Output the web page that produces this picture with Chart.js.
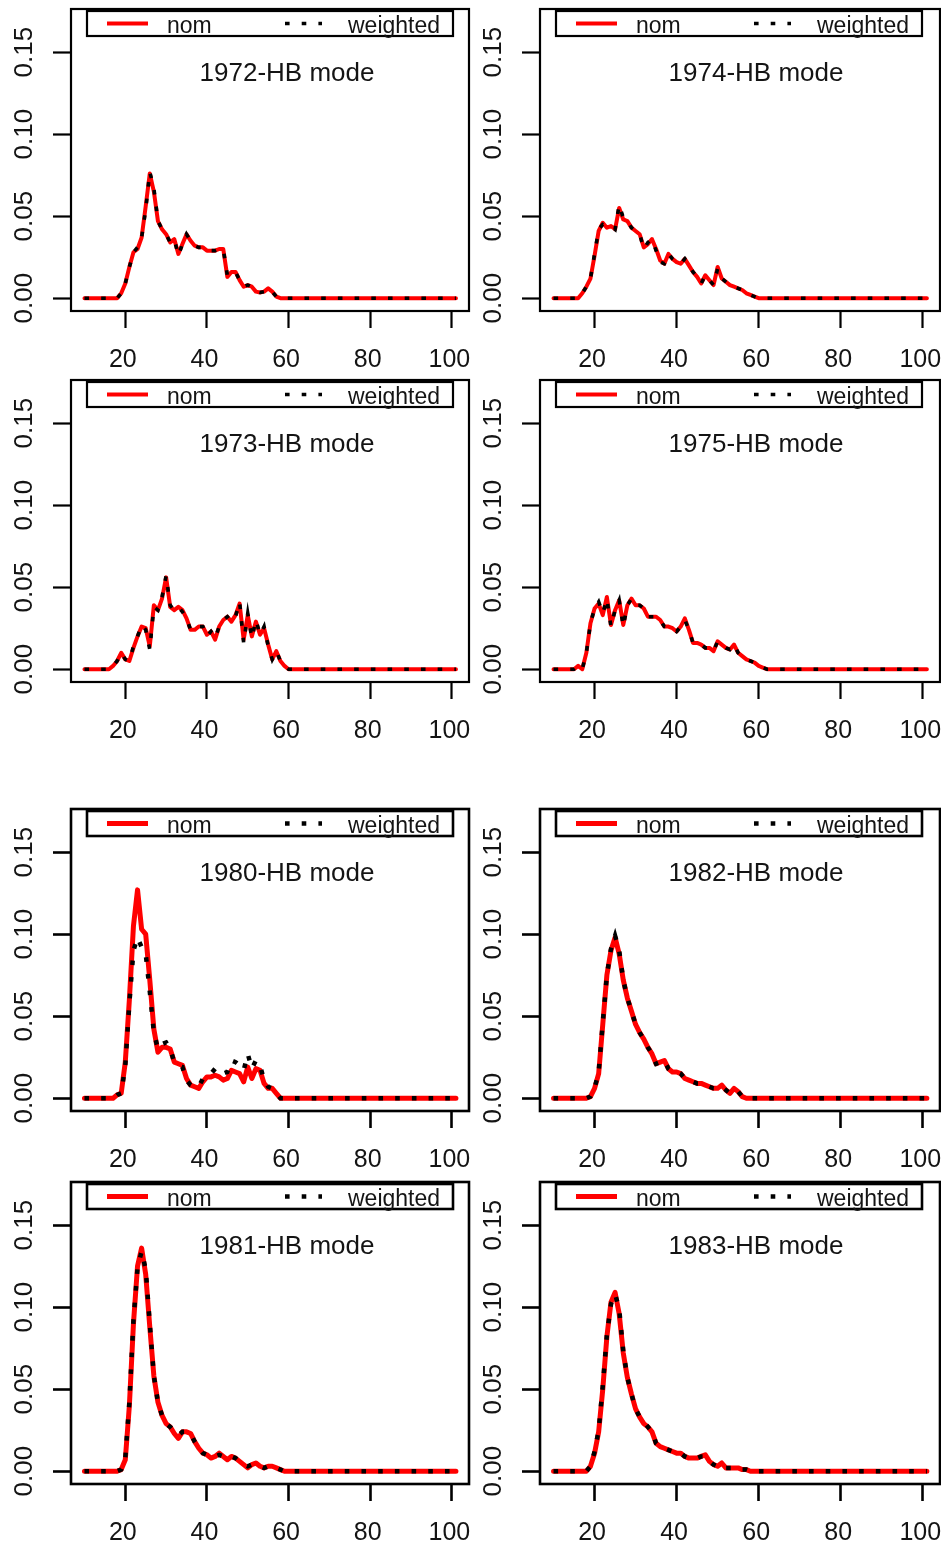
<!DOCTYPE html>
<html>
<head>
<meta charset="utf-8">
<script src="https://cdn.jsdelivr.net/npm/chart.js@4.4.1/dist/chart.umd.min.js"></script>
<style>
  html, body { margin: 0; padding: 0; background: #ffffff; }
  #sheet { position: relative; width: 941px; height: 1549px; overflow: hidden; background: #fff; }
  #sheet canvas { position: absolute; }
</style>
</head>
<body>
<div id="sheet"></div>
<script>
// ---- data -----------------------------------------------------------------
const ages = [
  10, 11, 12, 13, 14, 15, 16, 17, 18, 19,
  20, 21, 22, 23, 24, 25, 26, 27, 28, 29,
  30, 31, 32, 33, 34, 35, 36, 37, 38, 39,
  40, 41, 42, 43, 44, 45, 46, 47, 48, 49,
  50, 51, 52, 53, 54, 55, 56, 57, 58, 59,
  60, 61, 62, 63, 64, 65, 66, 67, 68, 69,
  70, 71, 72, 73, 74, 75, 76, 77, 78, 79,
  80, 81, 82, 83, 84, 85, 86, 87, 88, 89,
  90, 91, 92, 93, 94, 95, 96, 97, 98, 99,
  100, 101
];
const xTickValues = [20, 40, 60, 80, 100];
const yTickValues = [0, 0.05, 0.10, 0.15];
const seriesNames = ['nom', 'weighted'];
const panelTitles = ['1972-HB mode', '1974-HB mode', '1973-HB mode', '1975-HB mode',
                     '1980-HB mode', '1982-HB mode', '1981-HB mode', '1983-HB mode'];

const nom1972 = [
  0, 0, 0, 0, 0, 0, 0, 0, 0, 0.003,
  0.009, 0.019, 0.028, 0.030, 0.037, 0.056, 0.076, 0.065, 0.047, 0.042,
  0.039, 0.034, 0.036, 0.027, 0.033, 0.039, 0.035, 0.032, 0.031, 0.031,
  0.029, 0.029, 0.029, 0.030, 0.030, 0.013, 0.016, 0.016, 0.011, 0.007,
  0.008, 0.007, 0.004, 0.0035, 0.004, 0.006, 0.004, 0.001, 0, 0,
  0, 0, 0, 0, 0, 0, 0, 0, 0, 0,
  0, 0, 0, 0, 0, 0, 0, 0, 0, 0,
  0, 0, 0, 0, 0, 0, 0, 0, 0, 0,
  0, 0, 0, 0, 0, 0, 0, 0, 0, 0,
  0, 0
];
const wtd1972 = [
  0, 0, 0, 0, 0, 0, 0, 0, 0, 0.003,
  0.009, 0.019, 0.028, 0.031, 0.037, 0.054, 0.077, 0.067, 0.047, 0.042,
  0.039, 0.034, 0.036, 0.026, 0.033, 0.039, 0.035, 0.032, 0.031, 0.031,
  0.029, 0.029, 0.029, 0.030, 0.030, 0.014, 0.016, 0.016, 0.011, 0.007,
  0.008, 0.007, 0.004, 0.0035, 0.004, 0.006, 0.004, 0.001, 0, 0,
  0, 0, 0, 0, 0, 0, 0, 0, 0, 0,
  0, 0, 0, 0, 0, 0, 0, 0, 0, 0,
  0, 0, 0, 0, 0, 0, 0, 0, 0, 0,
  0, 0, 0, 0, 0, 0, 0, 0, 0, 0,
  0, 0
];
const nom1974 = [
  0, 0, 0, 0, 0, 0, 0, 0.003, 0.007, 0.012,
  0.026, 0.041, 0.046, 0.043, 0.044, 0.042, 0.055, 0.048, 0.047, 0.043,
  0.041, 0.039, 0.031, 0.033, 0.036, 0.030, 0.023, 0.021, 0.027, 0.024,
  0.022, 0.021, 0.024, 0.020, 0.016, 0.013, 0.009, 0.014, 0.011, 0.008,
  0.019, 0.012, 0.010, 0.008, 0.007, 0.006, 0.005, 0.003, 0.002, 0.001,
  0, 0, 0, 0, 0, 0, 0, 0, 0, 0,
  0, 0, 0, 0, 0, 0, 0, 0, 0, 0,
  0, 0, 0, 0, 0, 0, 0, 0, 0, 0,
  0, 0, 0, 0, 0, 0, 0, 0, 0, 0,
  0, 0
];
const wtd1974 = [
  0, 0, 0, 0, 0, 0, 0, 0.003, 0.007, 0.012,
  0.027, 0.042, 0.045, 0.044, 0.044, 0.042, 0.057, 0.049, 0.047, 0.043,
  0.041, 0.039, 0.030, 0.034, 0.036, 0.029, 0.022, 0.021, 0.027, 0.024,
  0.022, 0.021, 0.024, 0.020, 0.016, 0.013, 0.009, 0.014, 0.011, 0.008,
  0.018, 0.012, 0.010, 0.008, 0.007, 0.006, 0.005, 0.003, 0.002, 0.001,
  0, 0, 0, 0, 0, 0, 0, 0, 0, 0,
  0, 0, 0, 0, 0, 0, 0, 0, 0, 0,
  0, 0, 0, 0, 0, 0, 0, 0, 0, 0,
  0, 0, 0, 0, 0, 0, 0, 0, 0, 0,
  0, 0
];
const nom1973 = [
  0, 0, 0, 0, 0, 0, 0, 0.002, 0.005, 0.010,
  0.006, 0.005, 0.013, 0.020, 0.026, 0.025, 0.014, 0.039, 0.036, 0.043,
  0.056, 0.038, 0.036, 0.038, 0.036, 0.031, 0.024, 0.024, 0.026, 0.026,
  0.021, 0.023, 0.018, 0.026, 0.030, 0.032, 0.029, 0.033, 0.040, 0.018,
  0.033, 0.020, 0.029, 0.021, 0.025, 0.015, 0.006, 0.011, 0.005, 0.002,
  0, 0, 0, 0, 0, 0, 0, 0, 0, 0,
  0, 0, 0, 0, 0, 0, 0, 0, 0, 0,
  0, 0, 0, 0, 0, 0, 0, 0, 0, 0,
  0, 0, 0, 0, 0, 0, 0, 0, 0, 0,
  0, 0
];
const wtd1973 = [
  0, 0, 0, 0, 0, 0, 0, 0.002, 0.005, 0.010,
  0.006, 0.005, 0.014, 0.020, 0.027, 0.024, 0.012, 0.038, 0.036, 0.044,
  0.057, 0.039, 0.036, 0.038, 0.035, 0.031, 0.024, 0.024, 0.026, 0.026,
  0.020, 0.023, 0.019, 0.026, 0.030, 0.032, 0.029, 0.032, 0.041, 0.016,
  0.034, 0.019, 0.030, 0.021, 0.026, 0.014, 0.006, 0.011, 0.005, 0.002,
  0, 0, 0, 0, 0, 0, 0, 0, 0, 0,
  0, 0, 0, 0, 0, 0, 0, 0, 0, 0,
  0, 0, 0, 0, 0, 0, 0, 0, 0, 0,
  0, 0, 0, 0, 0, 0, 0, 0, 0, 0,
  0, 0
];
const nom1975 = [
  0, 0, 0, 0, 0, 0, 0.002, 0, 0.010, 0.028,
  0.037, 0.040, 0.033, 0.044, 0.027, 0.036, 0.042, 0.027, 0.039, 0.043,
  0.039, 0.039, 0.037, 0.032, 0.032, 0.032, 0.030, 0.026, 0.026, 0.025,
  0.023, 0.026, 0.031, 0.024, 0.016, 0.016, 0.015, 0.013, 0.013, 0.011,
  0.017, 0.015, 0.013, 0.012, 0.015, 0.010, 0.008, 0.006, 0.005, 0.004,
  0.002, 0.001, 0, 0, 0, 0, 0, 0, 0, 0,
  0, 0, 0, 0, 0, 0, 0, 0, 0, 0,
  0, 0, 0, 0, 0, 0, 0, 0, 0, 0,
  0, 0, 0, 0, 0, 0, 0, 0, 0, 0,
  0, 0
];
const wtd1975 = [
  0, 0, 0, 0, 0, 0, 0.002, 0, 0.010, 0.028,
  0.037, 0.041, 0.034, 0.043, 0.026, 0.036, 0.042, 0.026, 0.039, 0.043,
  0.039, 0.039, 0.037, 0.032, 0.032, 0.032, 0.030, 0.026, 0.026, 0.025,
  0.023, 0.026, 0.030, 0.024, 0.016, 0.016, 0.015, 0.013, 0.013, 0.011,
  0.017, 0.015, 0.013, 0.012, 0.015, 0.010, 0.008, 0.006, 0.005, 0.004,
  0.002, 0.001, 0, 0, 0, 0, 0, 0, 0, 0,
  0, 0, 0, 0, 0, 0, 0, 0, 0, 0,
  0, 0, 0, 0, 0, 0, 0, 0, 0, 0,
  0, 0, 0, 0, 0, 0, 0, 0, 0, 0,
  0, 0
];
const nom1980 = [
  0, 0, 0, 0, 0, 0, 0, 0, 0.002, 0.003,
  0.022, 0.060, 0.105, 0.127, 0.103, 0.100, 0.072, 0.042, 0.028, 0.031,
  0.031, 0.030, 0.022, 0.021, 0.020, 0.012, 0.008, 0.007, 0.006, 0.010,
  0.013, 0.013, 0.014, 0.013, 0.011, 0.012, 0.017, 0.016, 0.015, 0.010,
  0.019, 0.012, 0.018, 0.017, 0.009, 0.006, 0.006, 0.003, 0, 0,
  0, 0, 0, 0, 0, 0, 0, 0, 0, 0,
  0, 0, 0, 0, 0, 0, 0, 0, 0, 0,
  0, 0, 0, 0, 0, 0, 0, 0, 0, 0,
  0, 0, 0, 0, 0, 0, 0, 0, 0, 0,
  0, 0
];
const wtd1980 = [
  0, 0, 0, 0, 0, 0, 0, 0, 0.002, 0.003,
  0.020, 0.058, 0.090, 0.098, 0.092, 0.088, 0.065, 0.040, 0.030, 0.033,
  0.034, 0.030, 0.022, 0.020, 0.019, 0.011, 0.008, 0.007, 0.007, 0.012,
  0.013, 0.015, 0.018, 0.018, 0.015, 0.016, 0.023, 0.022, 0.020, 0.017,
  0.027, 0.018, 0.023, 0.020, 0.011, 0.007, 0.006, 0.003, 0, 0,
  0, 0, 0, 0, 0, 0, 0, 0, 0, 0,
  0, 0, 0, 0, 0, 0, 0, 0, 0, 0,
  0, 0, 0, 0, 0, 0, 0, 0, 0, 0,
  0, 0, 0, 0, 0, 0, 0, 0, 0, 0,
  0, 0
];
const nom1982 = [
  0, 0, 0, 0, 0, 0, 0, 0, 0, 0.001,
  0.006, 0.015, 0.045, 0.075, 0.090, 0.098, 0.088, 0.072, 0.061, 0.053,
  0.045, 0.040, 0.036, 0.031, 0.027, 0.021, 0.022, 0.023, 0.018, 0.016,
  0.016, 0.015, 0.012, 0.011, 0.010, 0.009, 0.009, 0.008, 0.007, 0.006,
  0.006, 0.008, 0.005, 0.003, 0.006, 0.004, 0.001, 0, 0, 0,
  0, 0, 0, 0, 0, 0, 0, 0, 0, 0,
  0, 0, 0, 0, 0, 0, 0, 0, 0, 0,
  0, 0, 0, 0, 0, 0, 0, 0, 0, 0,
  0, 0, 0, 0, 0, 0, 0, 0, 0, 0,
  0, 0
];
const wtd1982 = [
  0, 0, 0, 0, 0, 0, 0, 0, 0, 0.001,
  0.006, 0.016, 0.046, 0.075, 0.091, 0.099, 0.090, 0.072, 0.061, 0.053,
  0.045, 0.040, 0.036, 0.031, 0.027, 0.021, 0.022, 0.023, 0.018, 0.016,
  0.016, 0.015, 0.012, 0.011, 0.010, 0.009, 0.009, 0.008, 0.007, 0.006,
  0.006, 0.007, 0.005, 0.003, 0.005, 0.004, 0.001, 0, 0, 0,
  0, 0, 0, 0, 0, 0, 0, 0, 0, 0,
  0, 0, 0, 0, 0, 0, 0, 0, 0, 0,
  0, 0, 0, 0, 0, 0, 0, 0, 0, 0,
  0, 0, 0, 0, 0, 0, 0, 0, 0, 0,
  0, 0
];
const nom1981 = [
  0, 0, 0, 0, 0, 0, 0, 0, 0, 0.001,
  0.007, 0.040, 0.090, 0.125, 0.136, 0.120, 0.088, 0.058, 0.042, 0.034,
  0.029, 0.027, 0.023, 0.020, 0.024, 0.024, 0.023, 0.018, 0.014, 0.011,
  0.010, 0.008, 0.009, 0.011, 0.009, 0.007, 0.009, 0.008, 0.006, 0.004,
  0.002, 0.004, 0.005, 0.003, 0.002, 0.003, 0.003, 0.002, 0.001, 0,
  0, 0, 0, 0, 0, 0, 0, 0, 0, 0,
  0, 0, 0, 0, 0, 0, 0, 0, 0, 0,
  0, 0, 0, 0, 0, 0, 0, 0, 0, 0,
  0, 0, 0, 0, 0, 0, 0, 0, 0, 0,
  0, 0
];
const wtd1981 = [
  0, 0, 0, 0, 0, 0, 0, 0, 0, 0.001,
  0.008, 0.042, 0.092, 0.124, 0.134, 0.123, 0.090, 0.058, 0.042, 0.034,
  0.029, 0.027, 0.024, 0.022, 0.024, 0.024, 0.023, 0.018, 0.014, 0.011,
  0.010, 0.009, 0.009, 0.010, 0.009, 0.008, 0.009, 0.008, 0.006, 0.004,
  0.003, 0.004, 0.004, 0.003, 0.002, 0.003, 0.002, 0.002, 0.001, 0,
  0, 0, 0, 0, 0, 0, 0, 0, 0, 0,
  0, 0, 0, 0, 0, 0, 0, 0, 0, 0,
  0, 0, 0, 0, 0, 0, 0, 0, 0, 0,
  0, 0, 0, 0, 0, 0, 0, 0, 0, 0,
  0, 0
];
const nom1983 = [
  0, 0, 0, 0, 0, 0, 0, 0, 0, 0.003,
  0.011, 0.024, 0.050, 0.082, 0.103, 0.109, 0.096, 0.072, 0.057, 0.047,
  0.038, 0.033, 0.029, 0.027, 0.024, 0.017, 0.015, 0.014, 0.013, 0.012,
  0.011, 0.011, 0.009, 0.008, 0.008, 0.008, 0.009, 0.010, 0.006, 0.004,
  0.003, 0.005, 0.002, 0.002, 0.002, 0.002, 0.001, 0.001, 0, 0,
  0, 0, 0, 0, 0, 0, 0, 0, 0, 0,
  0, 0, 0, 0, 0, 0, 0, 0, 0, 0,
  0, 0, 0, 0, 0, 0, 0, 0, 0, 0,
  0, 0, 0, 0, 0, 0, 0, 0, 0, 0,
  0, 0
];
const wtd1983 = [
  0, 0, 0, 0, 0, 0, 0, 0, 0, 0.003,
  0.012, 0.025, 0.052, 0.083, 0.102, 0.108, 0.099, 0.073, 0.057, 0.047,
  0.038, 0.033, 0.030, 0.027, 0.024, 0.017, 0.015, 0.014, 0.013, 0.012,
  0.011, 0.011, 0.009, 0.008, 0.008, 0.008, 0.009, 0.009, 0.006, 0.004,
  0.003, 0.004, 0.002, 0.002, 0.002, 0.002, 0.001, 0.001, 0, 0,
  0, 0, 0, 0, 0, 0, 0, 0, 0, 0,
  0, 0, 0, 0, 0, 0, 0, 0, 0, 0,
  0, 0, 0, 0, 0, 0, 0, 0, 0, 0,
  0, 0, 0, 0, 0, 0, 0, 0, 0, 0,
  0, 0
];

// ---- panel arrangement (two blocks of 2 x 2) -------------------------------
const panels = [
  { title: panelTitles[0], nom: nom1972, wtd: wtd1972 },
  { title: panelTitles[1], nom: nom1974, wtd: wtd1974 },
  { title: panelTitles[2], nom: nom1973, wtd: wtd1973 },
  { title: panelTitles[3], nom: nom1975, wtd: wtd1975 },
  { title: panelTitles[4], nom: nom1980, wtd: wtd1980 },
  { title: panelTitles[5], nom: nom1982, wtd: wtd1982 },
  { title: panelTitles[6], nom: nom1981, wtd: wtd1981 },
  { title: panelTitles[7], nom: nom1983, wtd: wtd1983 }
];
const slots = [
  { left: 0,   top: 0,    col: 0, heavy: false },
  { left: 470, top: 0,    col: 1, heavy: false },
  { left: 0,   top: 371,  col: 0, heavy: false },
  { left: 470, top: 371,  col: 1, heavy: false },
  { left: 0,   top: 800,  col: 0, heavy: true },
  { left: 470, top: 800,  col: 1, heavy: true },
  { left: 0,   top: 1173, col: 0, heavy: true },
  { left: 470, top: 1173, col: 1, heavy: true }
];

// ---- fonts -----------------------------------------------------------------
const textFamily = '"Liberation Sans", Arial, sans-serif';
const xTickFont = { family: textFamily, size: 25 };
const yTickFont = { family: textFamily, size: 26 };

// ---- frame, inset legend and panel caption --------------------------------
const panelFrame = {
  id: 'panelFrame',
  afterDraw(chart, args, opts) {
    const { ctx, chartArea: a } = chart;
    ctx.save();
    // plot box
    ctx.strokeStyle = '#000';
    ctx.lineWidth = opts.frameWidth;
    ctx.setLineDash([]);
    ctx.strokeRect(a.left, a.top, a.right - a.left, a.bottom - a.top);

    // legend box across the top of the plot region
    const L = a.left, T = a.top;
    ctx.strokeRect(L + 16, T + 2, 366, 25);
    const spots = [ { x0: 36, x1: 77, tx: 96 }, { x0: 214, x1: 251, tx: 277 } ];
    chart.data.datasets.forEach((ds, i) => {
      const s = spots[i];
      ctx.beginPath();
      ctx.strokeStyle = ds.borderColor;
      ctx.lineWidth = ds.borderWidth;
      ctx.lineCap = 'butt';
      ctx.setLineDash(ds.borderDash || []);
      ctx.moveTo(L + s.x0, T + 14.5);
      ctx.lineTo(L + s.x1, T + 14.5);
      ctx.stroke();
      ctx.setLineDash([]);
      ctx.fillStyle = '#141414';
      ctx.font = '23px ' + textFamily;
      ctx.textAlign = 'left';
      ctx.textBaseline = 'alphabetic';
      ctx.fillText(ds.label, L + s.tx, T + 23.5);
    });

    // caption inside the plot region
    ctx.fillStyle = '#141414';
    ctx.font = '26px ' + textFamily;
    ctx.textAlign = 'center';
    ctx.textBaseline = 'middle';
    ctx.fillText(opts.caption, L + 216, T + 65);
    ctx.restore();
  }
};

// ---- build the charts ------------------------------------------------------
const sheet = document.getElementById('sheet');
panels.forEach((p, k) => {
  const s = slots[k];
  const cw = s.col === 0 ? 480 : 471;
  const ch = 375;
  const canvas = document.createElement('canvas');
  canvas.width = cw; canvas.height = ch;
  canvas.style.left = s.left + 'px';
  canvas.style.top = s.top + 'px';
  canvas.style.width = cw + 'px';
  canvas.style.height = ch + 'px';
  sheet.appendChild(canvas);

  const yAxisWidth = s.col === 0 ? 71 : 70;
  const rightPad = s.col === 0 ? 11 : 1;
  const redW = s.heavy ? 5 : 4;
  const dotW = s.heavy ? 4.5 : 3.6;

  new Chart(canvas, {
    type: 'line',
    data: {
      labels: ages,
      datasets: [
        {
          label: seriesNames[0],
          data: p.nom,
          borderColor: '#ff0000',
          borderWidth: redW,
          borderJoinStyle: 'round',
          borderCapStyle: 'round',
          pointRadius: 0,
          tension: 0,
          fill: false,
          order: 1
        },
        {
          label: seriesNames[1],
          data: p.wtd,
          borderColor: '#000000',
          borderWidth: dotW,
          borderDash: [4.6, 12.1],
          borderCapStyle: 'butt',
          pointRadius: 0,
          tension: 0,
          fill: false,
          order: 0
        }
      ]
    },
    options: {
      responsive: false,
      animation: false,
      devicePixelRatio: 1,
      events: [],
      layout: { padding: { top: 9, right: rightPad, left: 0, bottom: 0 } },
      plugins: {
        legend: { display: false },
        tooltip: { enabled: false },
        title: { display: false },
        panelFrame: { caption: p.title, frameWidth: s.heavy ? 2.6 : 2.2 }
      },
      scales: {
        x: {
          type: 'linear',
          min: 6.7,
          max: 104.2,
          afterBuildTicks: sc => { sc.ticks = xTickValues.map(v => ({ value: v })); },
          afterFit: sc => { sc.height = 64; sc.paddingLeft = 0; sc.paddingRight = 0; },
          border: { display: false },
          grid: { drawOnChartArea: false, drawTicks: true, tickLength: 17,
                  tickWidth: s.heavy ? 2.6 : 2.2, color: '#000' },
          ticks: { autoSkip: false, minRotation: 0, maxRotation: 0, padding: 17,
                   labelOffset: -2.5,
                   color: '#141414', font: xTickFont, callback: v => String(v) }
        },
        y: {
          type: 'linear',
          min: -0.0078,
          max: 0.1763,
          afterBuildTicks: sc => { sc.ticks = yTickValues.map(v => ({ value: v })); },
          afterFit: sc => { sc.width = yAxisWidth; sc.paddingTop = 0; sc.paddingBottom = 0; },
          border: { display: false },
          grid: { drawOnChartArea: false, drawTicks: true, tickLength: 18,
                  tickWidth: s.heavy ? 2.6 : 2.2, color: '#000' },
          ticks: { autoSkip: false, minRotation: 90, maxRotation: 90, crossAlign: 'center',
                   padding: 3, color: '#141414', font: yTickFont,
                   callback: v => Number(v).toFixed(2) }
        }
      }
    },
    plugins: [panelFrame]
  });
});
</script>
</body>
</html>
